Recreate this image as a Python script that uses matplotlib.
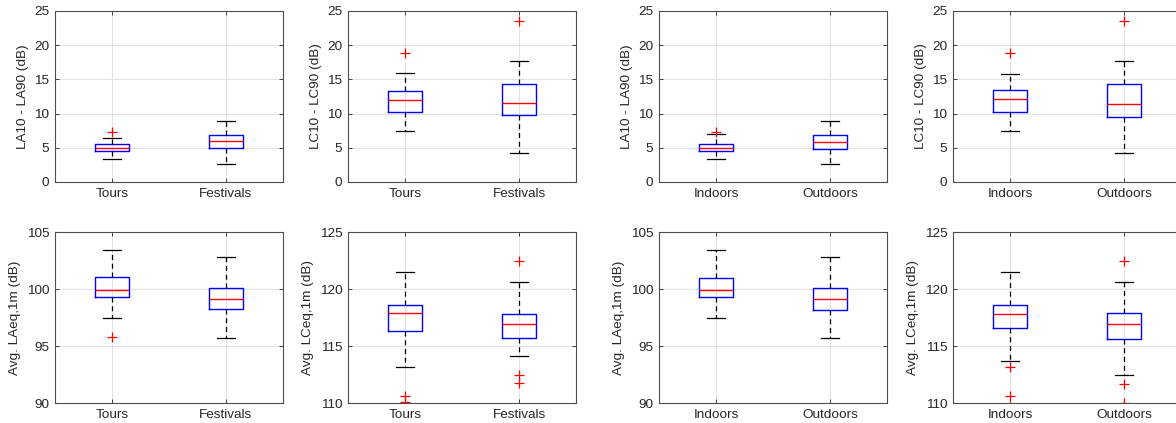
import matplotlib
matplotlib.use("Agg")
import matplotlib.pyplot as plt

plt.rcParams['font.family'] = ['Liberation Sans', 'DejaVu Sans']

# ---- data ----
type_labels = ['Tours', 'Festivals']
venue_labels = ['Indoors', 'Outdoors']

# stats per box: [whislo, q1, median, q3, whishi]
la_type_stats = [[3.35, 4.47, 4.95, 5.53, 6.5], [2.57, 4.95, 6.0, 6.8, 8.93]]
la_type_fliers = [[7.38], []]
lc_type_stats = [[7.48, 10.2, 12.0, 13.35, 15.9], [4.27, 9.76, 11.6, 14.37, 17.67]]
lc_type_fliers = [[18.8], [23.5]]
la_venue_stats = [[3.35, 4.5, 4.95, 5.58, 7.09], [2.57, 4.8, 5.87, 6.8, 8.93]]
la_venue_fliers = [[7.33], []]
lc_venue_stats = [[7.48, 10.2, 12.1, 13.4, 15.8], [4.27, 9.5, 11.46, 14.37, 17.67]]
lc_venue_fliers = [[18.8], [23.5]]

laeq_type_stats = [[97.43, 99.27, 99.94, 101.05, 103.45], [95.67, 98.22, 99.12, 100.12, 102.8]]
laeq_type_fliers = [[95.82], []]
lceq_type_stats = [[113.19, 116.35, 117.92, 118.63, 121.46], [114.12, 115.73, 116.9, 117.84, 120.58]]
lceq_type_fliers = [[110.6, 110.05], [122.5, 112.49, 111.73]]
laeq_venue_stats = [[97.43, 99.27, 99.94, 101.0, 103.45], [95.67, 98.19, 99.09, 100.09, 102.8]]
laeq_venue_fliers = [[], []]
lceq_venue_stats = [[113.68, 116.55, 117.84, 118.63, 121.46], [112.43, 115.64, 116.9, 117.92, 120.58]]
lceq_venue_fliers = [[113.16, 110.6], [122.5, 111.7, 110.0]]

ylabel_la = 'LA10 - LA90 (dB)'
ylabel_lc = 'LC10 - LC90 (dB)'
ylabel_laeq = 'Avg. LAeq,1m (dB)'
ylabel_lceq = 'Avg. LCeq,1m (dB)'

panels = [
    (la_type_stats, la_type_fliers, type_labels, ylabel_la, (0, 25)),
    (lc_type_stats, lc_type_fliers, type_labels, ylabel_lc, (0, 25)),
    (la_venue_stats, la_venue_fliers, venue_labels, ylabel_la, (0, 25)),
    (lc_venue_stats, lc_venue_fliers, venue_labels, ylabel_lc, (0, 25)),
    (laeq_type_stats, laeq_type_fliers, type_labels, ylabel_laeq, (90, 105)),
    (lceq_type_stats, lceq_type_fliers, type_labels, ylabel_lceq, (110, 125)),
    (laeq_venue_stats, laeq_venue_fliers, venue_labels, ylabel_laeq, (90, 105)),
    (lceq_venue_stats, lceq_venue_fliers, venue_labels, ylabel_lceq, (110, 125)),
]

W, H = 1176, 423
fig = plt.figure(figsize=(W / 100, H / 100), dpi=100)

lefts = [55, 348, 659, 953]
aw = 228
tops = [11, 232]
ah = 171

fs = 9.7
txt = '#262626'
for i, (stats, fliers, labels, ylab, ylim) in enumerate(panels):
    r, c = divmod(i, 4)
    ax = fig.add_axes([lefts[c] / W, (H - tops[r] - ah) / H, aw / W, ah / H])
    bxp_stats = []
    for s, f, lab in zip(stats, fliers, labels):
        bxp_stats.append(dict(whislo=s[0], q1=s[1], med=s[2], q3=s[3], whishi=s[4],
                              fliers=f, label=lab))
    ax.bxp(bxp_stats, positions=[1, 2], widths=0.29, showfliers=True,
           boxprops=dict(color='#0000FF', linewidth=1.0),
           medianprops=dict(color='#FF0000', linewidth=1.0),
           whiskerprops=dict(color='black', linewidth=0.9, linestyle=(0, (4, 3))),
           capprops=dict(color='black', linewidth=0.9),
           flierprops=dict(marker='+', markeredgecolor='#FF0000', markersize=7,
                           linestyle='none', markeredgewidth=0.9),
           capwidths=0.15)
    ax.set_xlim(0.5, 2.5)
    ax.set_ylim(*ylim)
    ax.set_yticks(range(ylim[0], ylim[1] + 1, 5))
    ax.set_xticks([1, 2])
    ax.set_xticklabels(labels)
    ax.set_ylabel(ylab, fontsize=fs, color=txt, labelpad=4)
    ax.grid(True, color='#E3E3E3', linewidth=0.8)
    ax.set_axisbelow(True)
    ax.tick_params(direction='in', length=3, width=0.6, colors='#262626',
                   labelsize=fs, labelcolor=txt, top=True, right=True, pad=4)
    for sp in ax.spines.values():
        sp.set_color('#4D4D4D')
        sp.set_linewidth(0.8)

fig.savefig('out.png', dpi=100)
